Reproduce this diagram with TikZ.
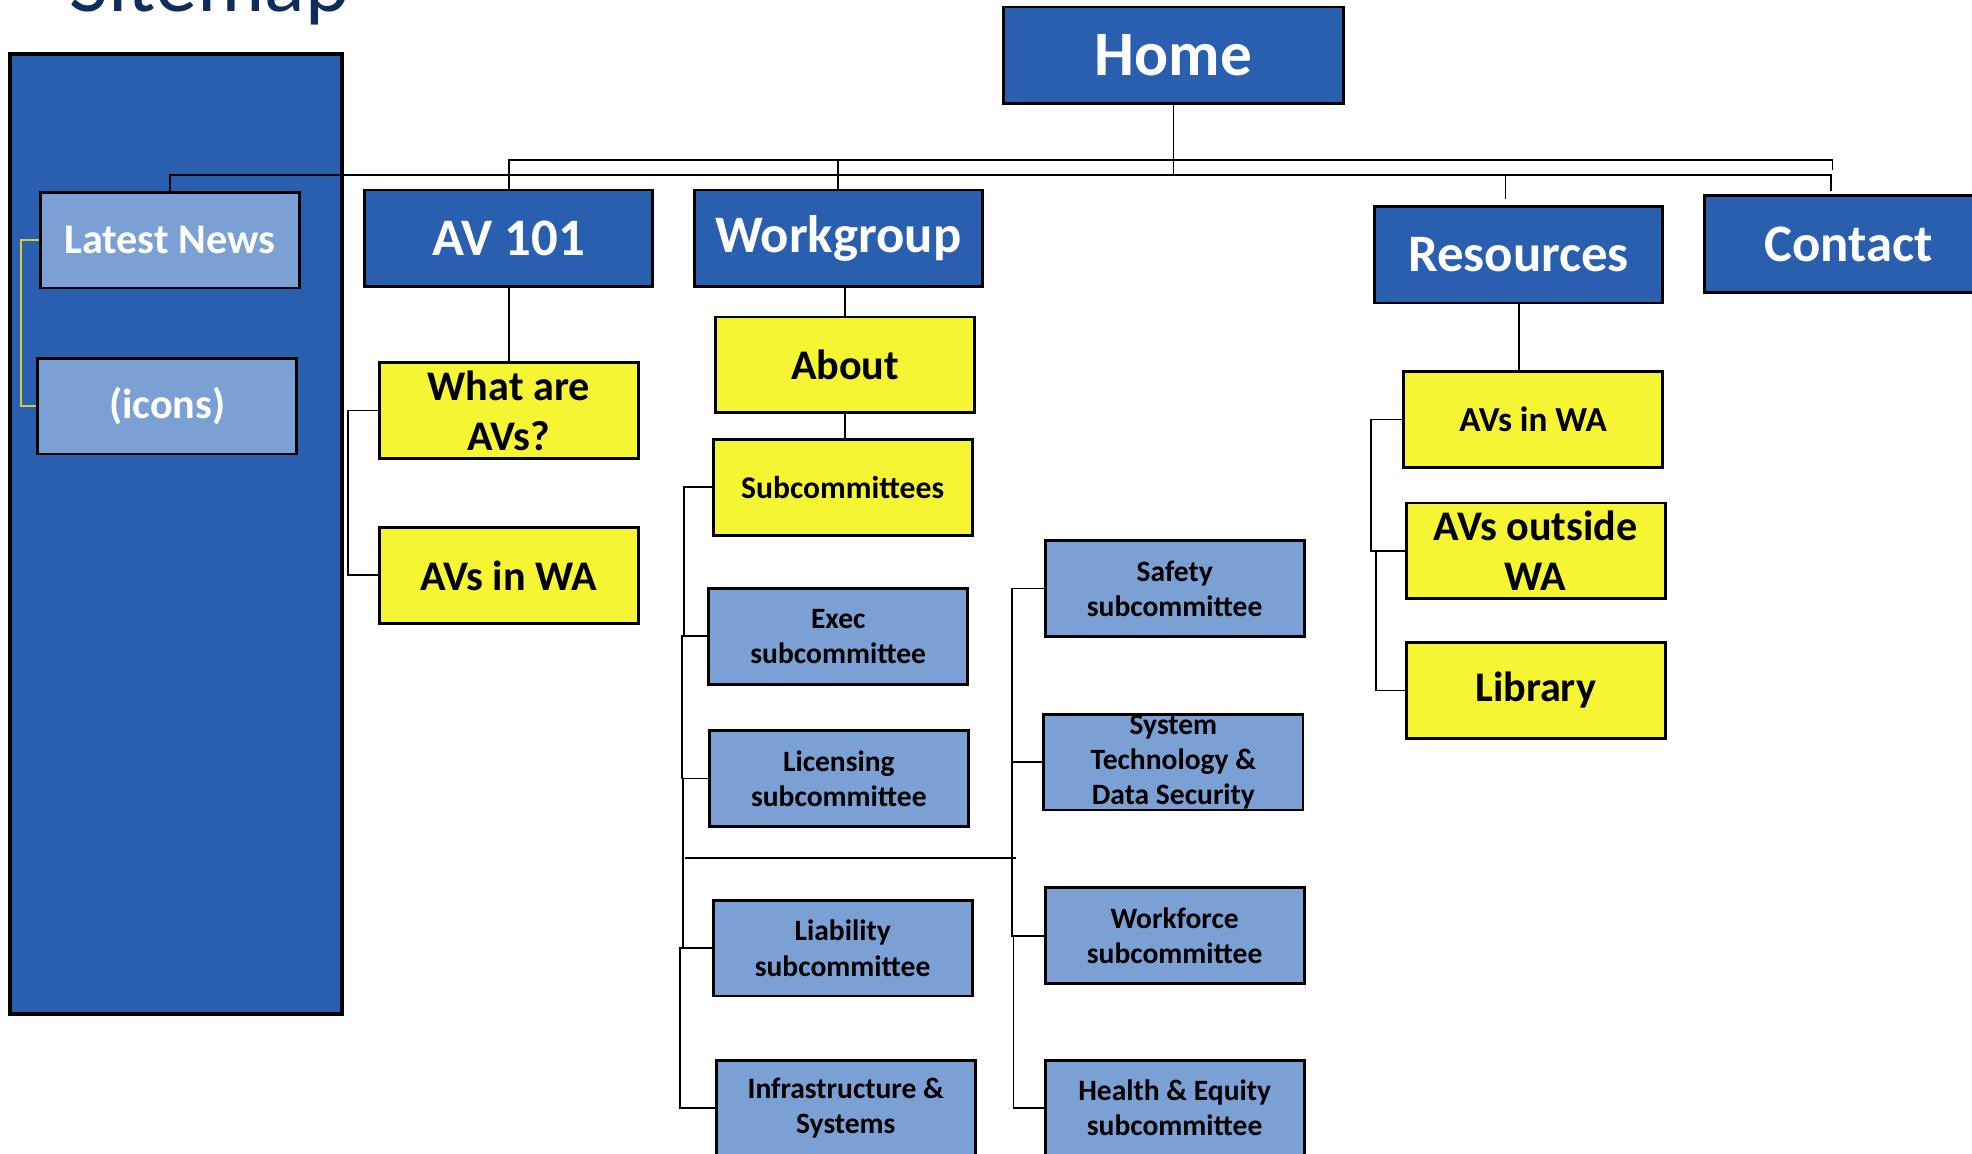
\documentclass[tikz,border=0pt]{standalone}
\usepackage{fontspec}
\setmainfont{Carlito}
\usepackage{tikz}
\usetikzlibrary{calc}
\definecolor{navy}{HTML}{0F2D5C}
\definecolor{deep}{HTML}{2A5FAF}
\definecolor{pale}{HTML}{7BA0D4}
\definecolor{lemon}{HTML}{F5F533}
\definecolor{gold}{HTML}{D8CB3A}
\definecolor{ink}{HTML}{000000}
\tikzset{
  box/.style={draw=ink, line width=0.8pt, align=center, inner sep=1pt},
  main/.style={box, fill=deep, text=white, minimum width=2.88cm, minimum height=0.968cm, font=\fontsize{15}{18}\selectfont\bfseries},
  page/.style={box, fill=lemon, text=ink, minimum width=2.59cm, minimum height=0.956cm, font=\fontsize{12}{14.3}\selectfont\bfseries},
  comm/.style={box, fill=pale, text=ink, inner ysep=0pt, minimum width=2.59cm, minimum height=0.956cm, font=\fontsize{8.4}{10}\selectfont\bfseries},
  side/.style={box, fill=pale, text=white, minimum width=2.59cm, minimum height=0.956cm, font=\fontsize{12}{14}\selectfont\bfseries},
  panel/.style={draw=ink, fill=deep, line width=1.2pt},
  link/.style={draw=ink, line width=0.5pt},
  sidelink/.style={draw=gold, line width=0.6pt},
}
\begin{document}
\begin{tikzpicture}[x=0.12577mm, y=-0.12577mm]
  \useasboundingbox (0,0) rectangle (1568,917);
  % title, mostly cut off by the top edge
  \node[anchor=base west, inner sep=0pt, text=navy, font=\fontsize{24}{28}\selectfont] (title) at (55,9.5) {Sitemap};
  \draw[panel] (8,43) rectangle (272,806);

  % top level
  \node[main, minimum width=3.396cm, font=\fontsize{18}{21}\selectfont\bfseries] (home) at (933,44) {Home};
  \node[main] (av) at (404.5,189.5) {AV 101};
  \node[main] (wg) at (666.5,189.5) {Workgroup};
  \node[main] (res) at (1207.5,202.5) {Resources};
  \node[main, minimum width=2.893cm] (contact) at (1470,194) {Contact};
  \node[side] (news) at (135,191) {Latest News};
  \node[side] (icons) at (133,323) {(icons)};

  % AV 101
  \node[page] (what) at (404.5,326.5) {What are\\AVs?};
  \node[page] (avwa) at (404.5,457.5) {AVs in WA};

  % workgroup
  \node[page] (about) at (672,290) {About};
  \node[page, font=\fontsize{9}{11}\selectfont\bfseries] (subc) at (670,387.5) {Subcommittees};
  \node[comm] (exec) at (666.5,506) {Exec\\subcommittee};
  \node[comm] (lic) at (667,619) {Licensing\\subcommittee};
  \node[comm] (liab) at (670,754) {Liability\\subcommittee};
  \node[comm] (infra) at (672.5,881) {Infrastructure \&\\Systems};
  \node[comm] (safety) at (934,468) {Safety\\subcommittee};
  \node[comm] (sys) at (933,606) {System\\Technology \&\\Data Security};
  \node[comm] (work) at (934,744) {Workforce\\subcommittee};
  \node[comm] (health) at (934,881) {Health \& Equity\\subcommittee};

  % resources
  \node[page, font=\fontsize{10}{12}\selectfont\bfseries] (rwa) at (1219,333.5) {AVs in WA};
  \node[page] (rout) at (1221,438) {AVs outside\\WA};
  \node[page] (lib) at (1221,549) {Library};

  \coordinate (busA) at (1457,127);
  \coordinate (busAend) at (1457,135);
  \coordinate (busB) at (1456,139);
  \coordinate (busBend) at (1456,152);
  \coordinate (resTop) at (1197,158);
  \coordinate (colL) at (545,682);
  \coordinate (colR) at (808,682);

  \draw[link] (av.north) |- (busA) -- (busAend);
  \draw[link] (news.north) |- (busB) -- (busBend);
  \draw[link] (home.south) -- (home.south |- busB);
  \draw[link] (wg.north) -- (wg.north |- busA);
  \draw[link] (resTop) -- (resTop |- busB);
  \draw[sidelink] (news.west) -- ++(-14,0) |- (icons.west);

  \draw[link] (av.south) -- (what.north);
  \draw[link] (what.west) -- ++(-24,0) |- (avwa.west);

  \draw[link] (wg.south -| about.north) -- (about.north);
  \draw[link] (about.south) -- (about.south |- subc.north);
  \draw[link] (subc.west) -- ++(-22,0) |- (exec.west);
  \draw[link] (exec.west) -- ++(-20,0) |- (lic.west);
  \draw[link] (lic.west) -- ++(-20,0) |- (liab.west);
  \draw[link] (liab.west) -- ++(-25,0) |- (infra.west);
  \draw[link] (safety.west) -- ++(-25,0) |- (sys.west);
  \draw[link] (sys.west) -- ++(-24,0) |- (work.west);
  \draw[link] (work.west) -- ++(-24,0) |- (health.west);
  \draw[link] (colL) -- (colR);

  \draw[link] (res.south) -- (res.south |- rwa.north);
  \draw[link] (rwa.west) -- ++(-25,0) |- (rout.west);
  \draw[link] (rout.west) -- ++(-23,0) |- (lib.west);
\end{tikzpicture}
\end{document}
